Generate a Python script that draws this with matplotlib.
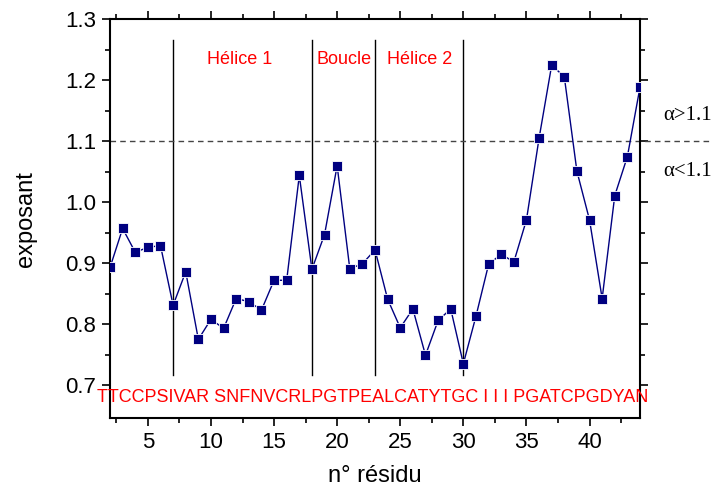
import matplotlib
matplotlib.use("Agg")
import matplotlib.pyplot as plt
from matplotlib.ticker import MultipleLocator, FixedLocator

# residue numbers and exponent values
residues = list(range(2, 45))
exposant = [0.893, 0.957, 0.918, 0.926, 0.929, 0.831, 0.886, 0.775, 0.808, 0.793,
            0.842, 0.837, 0.823, 0.872, 0.872, 1.044, 0.890, 0.947, 1.060, 0.891,
            0.899, 0.922, 0.841, 0.794, 0.825, 0.749, 0.806, 0.825, 0.735, 0.813,
            0.898, 0.915, 0.902, 0.971, 1.105, 1.225, 1.206, 1.051, 0.971, 0.842,
            1.011, 1.075, 1.189]

sequence = "TTCCPSIVAR SNFNVCRLPGTPEALCATYTGC I I I PGATCPGDYAN"
boundaries = [7, 18, 23, 30]
regions = ["Hélice 1", "Boucle", "Hélice 2"]
region_x = [12.3, 20.55, 26.5]
threshold = 1.1

plt.rcParams["font.family"] = ["Liberation Sans", "DejaVu Sans"]

fig = plt.figure(figsize=(7.2, 4.91), dpi=100)
ax = fig.add_axes([0.1528, 0.1487, 0.7361, 0.8116])

ax.plot(residues, exposant, "-", color="#000080", lw=1.0,
        marker="s", ms=7.5, mfc="#000080", mec="white", mew=0.6, zorder=3)

# region boundaries
for b in boundaries:
    ax.plot([b, b], [0.716, 1.267], color="black", lw=1.0, zorder=2)

# threshold line, runs past the right spine
ax.axhline(threshold, xmin=0, xmax=(710 - 110) / 530, color="#444444",
           lw=1.0, ls=(0, (4, 3)), clip_on=False)

for name, xr in zip(regions, region_x):
    ax.text(xr, 1.234, name, color="red", fontsize=13, ha="center", va="center")

ax.text(22.85, 0.680, sequence, color="red", fontsize=13, ha="center", va="center")

ax.text(1.043, 1.143, "α>1.1", transform=ax.get_yaxis_transform(),
        family="Liberation Serif", fontsize=15, va="center", ha="left")
ax.text(1.043, 1.05, "α<1.1", transform=ax.get_yaxis_transform(),
        family="Liberation Serif", fontsize=15, va="center", ha="left")

ax.set_xlim(2, 44)
ax.set_ylim(0.646, 1.3)
ax.xaxis.set_major_locator(MultipleLocator(5))
ax.xaxis.set_minor_locator(MultipleLocator(2.5))
ax.yaxis.set_major_locator(FixedLocator([0.7, 0.8, 0.9, 1.0, 1.1, 1.2, 1.3]))
ax.yaxis.set_minor_locator(FixedLocator([0.75, 0.85, 0.95, 1.05, 1.15, 1.25]))
ax.yaxis.set_major_formatter(plt.FuncFormatter(lambda v, p: f"{v:.1f}"))

ax.tick_params(which="both", direction="out", top=True, right=True,
               labelsize=16, width=1.2)
ax.tick_params(which="major", length=6, pad=4)
ax.tick_params(which="minor", length=3.5)
for s in ax.spines.values():
    s.set_linewidth(1.5)

ax.set_xlabel("n° résidu", fontsize=17, labelpad=9)
ax.set_ylabel("exposant", fontsize=17, labelpad=20)

fig.savefig("out.png", dpi=100)
